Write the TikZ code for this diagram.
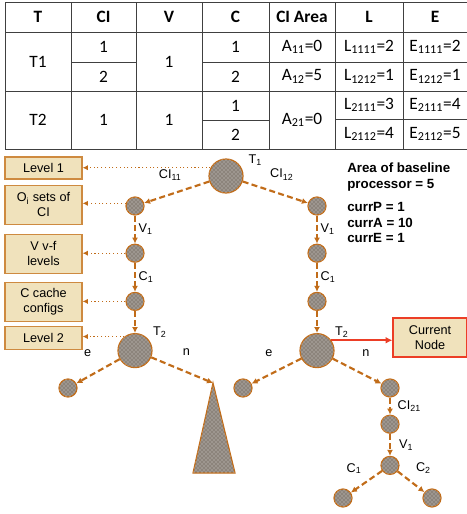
\documentclass[tikz,border=0pt]{standalone}
\usepackage{fontspec}
\setmainfont{Liberation Sans}
\newfontfamily\tabfont{Carlito}
\usetikzlibrary{arrows.meta,positioning,patterns}

\definecolor{treebrown}{RGB}{193,108,25}
\definecolor{boxfill}{RGB}{240,226,188}
\definecolor{boxedge}{RGB}{206,138,64}
\definecolor{nodegray}{RGB}{140,132,124}
\definecolor{curred}{RGB}{236,62,38}

\tikzset{
  cell/.style={font=\tabfont\fontsize{13}{15}\selectfont,inner sep=0pt},
  head/.style={cell,font=\tabfont\bfseries\fontsize{13}{15}\selectfont},
  tabline/.style={line width=0.6pt,black!75},
  vert/.style={circle,draw=treebrown,line width=0.9pt,fill=nodegray,inner sep=0pt,
    postaction={pattern=crosshatch dots,pattern color=white!65!nodegray}},
  bigvert/.style={vert,minimum size=25.5pt},
  smallvert/.style={vert,minimum size=13.5pt},
  levbox/.style={draw=boxedge,fill=boxfill,line width=0.9pt,minimum width=57.75pt,
    align=center,inner sep=1pt,font=\fontsize{9.5}{11.25}\selectfont},
  curbox/.style={levbox,draw=curred,minimum width=55.5pt,minimum height=29.25pt},
  branch/.style={-{Latex[length=4.5pt,width=4.5pt]},treebrown,line width=1.6pt,
    dash pattern=on 4.5pt off 2.5pt},
  levline/.style={-{Latex[length=4pt,width=4pt]},treebrown,line width=0.8pt,dotted},
  curline/.style={-{Latex[length=5pt,width=5pt]},curred,line width=1.4pt},
  lbl/.style={font=\fontsize{9.5}{11}\selectfont,inner sep=1pt,text=black},
  info/.style={font=\bfseries\fontsize{10}{12}\selectfont,align=left,inner sep=0pt}
}

\begin{document}
\begin{tikzpicture}[x=0.75pt,y=-0.75pt]
\useasboundingbox (0,0) rectangle (467,514);

% table
\draw[tabline] (5,2) -- (467,2) (5,32) -- (467,32) (5,91) -- (467,91) (5,149) -- (467,149);
\draw[tabline] (5,2) -- (5,149) (71,2) -- (71,149) (136,2) -- (136,149) (202,2) -- (202,149)
  (269,2) -- (269,149) (335,2) -- (335,149) (403,2) -- (403,149);
\draw[tabline] (71,62) -- (136,62) (202,62) -- (467,62);
\draw[tabline] (202,120.5) -- (269,120.5) (335,119.5) -- (467,119.5);

\node[head] (hT) at (38,17) {T};
\node[head] (hCI) at (103.5,17) {CI};
\node[head] (hV) at (169,17) {V};
\node[head] (hC) at (235.5,17) {C};
\node[head] (hArea) at (302,17) {CI Area};
\node[head] (hL) at (369,17) {L};
\node[head] (hE) at (435,17) {E};

\node[cell] (tA) at (38,62) {T1};
\node[cell] (ciA) at (103.5,47) {1};
\node[cell] (ciB) at (103.5,76.5) {2};
\node[cell] (vA) at (169,62) {1};
\node[cell] (cA) at (235.5,47) {1};
\node[cell] (cB) at (235.5,76.5) {2};
\node[cell] (aA) at (302,47) {A\textsubscript{11}=0};
\node[cell] (aB) at (302,76.5) {A\textsubscript{12}=5};
\node[cell] (lA) at (369,47) {L\textsubscript{1111}=2};
\node[cell] (lB) at (369,76.5) {L\textsubscript{1212}=1};
\node[cell] (eA) at (435,47) {E\textsubscript{1111}=2};
\node[cell] (eB) at (435,76.5) {E\textsubscript{1212}=1};

\node[cell] (tB) at (38,120) {T2};
\node[cell] (ciC) at (103.5,120) {1};
\node[cell] (vB) at (169,120) {1};
\node[cell] (cC) at (235.5,105.5) {1};
\node[cell] (cD) at (235.5,134.5) {2};
\node[cell] (aC) at (302,120) {A\textsubscript{21}=0};
\node[cell] (lC) at (369,105) {L\textsubscript{2111}=3};
\node[cell] (lD) at (369,134) {L\textsubscript{2112}=4};
\node[cell] (eC) at (435,105) {E\textsubscript{2111}=4};
\node[cell] (eD) at (435,134) {E\textsubscript{2112}=5};

% level boxes
\node[levbox,minimum height=16.5pt] (lev1) at (43.5,168) {Level 1};
\node[levbox,minimum height=29.25pt,below=3.75pt of lev1] (osets) {O\textsubscript{i} sets of\\CI};
\node[levbox,minimum height=29.25pt,below=6.75pt of osets] (vlev) {V v-f\\levels};
\node[levbox,minimum height=29.25pt,below=6pt of vlev] (cconf) {C cache\\configs};
\node[levbox,minimum height=17.25pt,below=3pt of cconf] (lev2) {Level 2};

% search tree
\node[bigvert,label={[lbl,label distance=4pt]24:T\textsubscript{1}}] (root) at (226,176) {};
\node[smallvert] (ci11) at (135,206) {};
\node[smallvert,below=21pt of ci11] (v1a) {};
\node[smallvert,below=21.75pt of v1a] (c1a) {};
\node[bigvert,below=16.5pt of c1a,label={[lbl,label distance=2pt]35:T\textsubscript{2}}] (t2a) {};
\node[smallvert] (ea) at (68,388) {};
\coordinate (apex) at (213,383);
\draw[treebrown,line width=0.9pt,fill=nodegray,postaction={pattern=crosshatch dots,pattern color=white!65!nodegray}]
  (apex) -- (193,473) -- (235,473) -- cycle;

\node[smallvert] (ci12) at (317,206) {};
\node[smallvert,below=21pt of ci12] (v1b) {};
\node[smallvert,below=21.75pt of v1b] (c1b) {};
\node[bigvert,below=16.5pt of c1b,label={[lbl,label distance=2pt]35:T\textsubscript{2}}] (t2b) {};
\node[smallvert] (eb) at (243,388) {};
\node[smallvert] (nb) at (390,388) {};
\node[smallvert,below=12.75pt of nb] (ci21) {};
\node[smallvert,below=16.5pt of ci21] (v1c) {};
\node[smallvert] (c1leaf) at (343,498) {};
\node[smallvert] (c2leaf) at (432,498) {};

\node[curbox] (cur) at (430,337.5) {Current\\Node};

\node[info,anchor=north west] (area) at (347,163) {Area of baseline\\processor = 5};
\node[info,below=7.9pt of area.south west,anchor=north west,
  font=\bfseries\fontsize{10}{11.6}\selectfont] (curr) {currP = 1\\currA = 10\\currE = 1};

\draw[branch] (root) -- node[lbl,above=9pt,pos=0.6] {CI\textsubscript{11}} (ci11);
\draw[branch] (root) -- node[lbl,above=9pt,pos=0.6] {CI\textsubscript{12}} (ci12);
\draw[branch] (ci11) -- node[lbl,right=1pt] {V\textsubscript{1}} (v1a);
\draw[branch] (v1a) -- node[lbl,right=1pt] {C\textsubscript{1}} (c1a);
\draw[branch] (c1a) -- (t2a);
\draw[branch] (ci12) -- node[lbl,right=1pt] {V\textsubscript{1}} (v1b);
\draw[branch] (v1b) -- node[lbl,right=1pt] {C\textsubscript{1}} (c1b);
\draw[branch] (c1b) -- (t2b);
\draw[branch] (t2a) -- node[lbl,pos=0.45,above left=8pt and 5pt] {e} (ea);
\draw[branch] (t2a) -- node[lbl,pos=0.45,above right=8pt and 1pt] {n} (apex);
\draw[branch] (t2b) -- node[lbl,pos=0.45,above left=8pt and 3pt] {e} (eb);
\draw[branch] (t2b) -- node[lbl,pos=0.45,above right=8pt and 4pt] {n} (nb);
\draw[branch] (nb) -- node[lbl,right=4pt] {CI\textsubscript{21}} (ci21);
\draw[branch] (ci21) -- node[lbl,right=5pt] {V\textsubscript{1}} (v1c);
\draw[branch] (v1c) -- node[lbl,above left=4pt and 2pt] {C\textsubscript{1}} (c1leaf);
\draw[branch] (v1c) -- node[lbl,above right=4pt and 2pt] {C\textsubscript{2}} (c2leaf);

\draw[curline] (t2b.36) -- (t2b.36 -| cur.west);

\draw[levline] (root.152) -- (root.152 -| lev1.east);
\draw[levline] (ci11.164) -- (ci11.164 -| osets.east);
\draw[levline] (v1a.west) -- (v1a.west -| vlev.east);
\draw[levline] (c1a.west) -- (c1a.west -| cconf.east);
\draw[levline] (t2a.127) -- (t2a.127 -| lev2.east);

\end{tikzpicture}
\end{document}
